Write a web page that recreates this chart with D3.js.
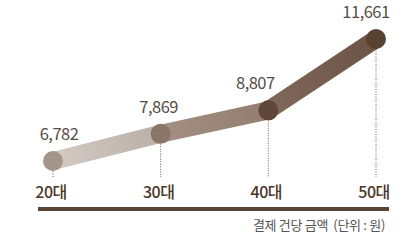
<!DOCTYPE html>
<html>
<head>
<meta charset="utf-8">
<script src="https://cdn.jsdelivr.net/npm/d3@7"></script>
<style>
  html, body { margin: 0; padding: 0; background: #fff; }
  svg { display: block; font-family: 'Noto Sans CJK KR', 'Noto Sans', sans-serif; }
</style>
</head>
<body>
<svg id="chart"></svg>
<script>
const categories = ['20대', '30대', '40대', '50대'];
const values = [6782, 7869, 8807, 11661];
const caption = '결제 건당 금액  (단위 : 원)';

const dotColors = ['#a59589', '#8a7669', '#5e4739', '#5a4233'];
const segStart = ['#d3cbc5', '#a49083', '#80695a'];
const segEnd = ['#bbafa6', '#927d6f', '#6b5445'];
const labelDx = [6, -2, -13, -10];

const width = 407;
const height = 243;
const svg = d3.select('#chart').attr('width', width).attr('height', height).attr('viewBox', `0 0 ${width} ${height}`);

const x = d3.scalePoint().domain(categories).range([53, 376]);
const y = d3.scaleLinear().domain([0, 12000]).range([330.6, 30.5]);
const baseY = 177;

const points = categories.map((c, i) => ({ c, v: values[i], i }));

// gradients per segment
const defs = svg.append('defs');
d3.pairs(points).forEach(([a, b], i) => {
  const g = defs.append('linearGradient').attr('id', `seg${i}`).attr('gradientUnits', 'userSpaceOnUse')
    .attr('x1', x(a.c)).attr('y1', y(a.v)).attr('x2', x(b.c)).attr('y2', y(b.v));
  g.append('stop').attr('offset', '0%').attr('stop-color', segStart[i]);
  g.append('stop').attr('offset', '100%').attr('stop-color', segEnd[i]);
});

// dotted drop lines
svg.append('g').selectAll('line').data(points).join('line')
  .attr('x1', (d) => x(d.c)).attr('x2', (d) => x(d.c))
  .attr('y1', (d) => y(d.v)).attr('y2', baseY)
  .attr('stroke', '#6b5a4e').attr('stroke-width', 1).attr('stroke-dasharray', '1,1.5');

// thick segments
svg.append('g').selectAll('line').data(d3.pairs(points)).join('line')
  .attr('x1', (d) => x(d[0].c)).attr('y1', (d) => y(d[0].v))
  .attr('x2', (d) => x(d[1].c)).attr('y2', (d) => y(d[1].v))
  .attr('stroke', (d, i) => `url(#seg${i})`).attr('stroke-width', 18);

// dots
svg.append('g').selectAll('circle').data(points).join('circle')
  .attr('cx', (d) => x(d.c)).attr('cy', (d) => y(d.v)).attr('r', 10)
  .attr('fill', (d) => dotColors[d.i]);

// value labels
svg.append('g').selectAll('text').data(points).join('text')
  .attr('x', (d) => x(d.c) + labelDx[d.i]).attr('y', (d) => y(d.v) - 21)
  .attr('text-anchor', 'middle').attr('fill', '#564b44').attr('font-size', 16.5).attr('font-weight', 400)
  .attr('letter-spacing', -0.5)
  .text((d) => d3.format(',')(d.v));

// category labels
svg.append('g').selectAll('text').data(points).join('text')
  .attr('x', (d) => x(d.c) - 2).attr('y', 198)
  .attr('text-anchor', 'middle').attr('fill', '#4a3628').attr('font-size', 16).attr('font-weight', 500)
  .attr('letter-spacing', -0.5)
  .text((d) => d.c);

// base line
svg.append('line').attr('x1', 38).attr('x2', 389).attr('y1', 209).attr('y2', 209)
  .attr('stroke', '#5a4535').attr('stroke-width', 4);

svg.append('text').attr('x', 385).attr('y', 230).attr('text-anchor', 'end')
  .attr('fill', '#555').attr('font-size', 13).attr('letter-spacing', -0.3)
  .attr('xml:space', 'preserve').text(caption);
</script>
</body>
</html>
